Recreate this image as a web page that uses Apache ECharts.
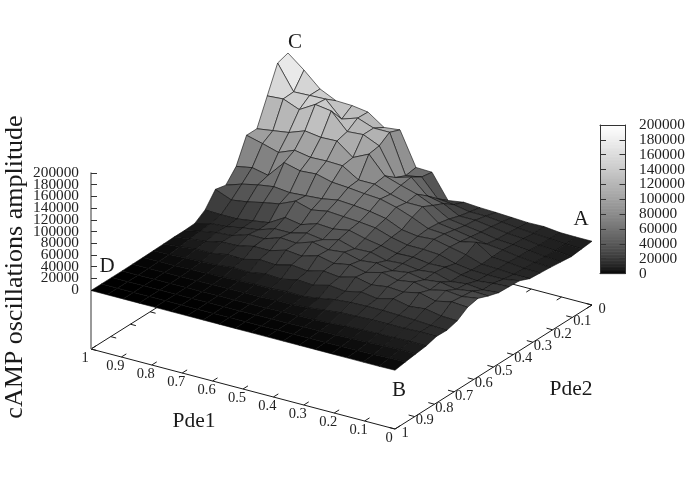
<!DOCTYPE html>
<html><head><meta charset="utf-8"><style>html,body{margin:0;padding:0;background:#fff}#c{width:685px;height:479px}</style>
<script src="https://cdn.jsdelivr.net/npm/echarts@6/dist/echarts.min.js"></script></head>
<body><div id="c"></div><script>
// cAMP amplitude in thousands. Rows: Pde2 from 0 to 1. Columns: Pde1 from 1 to 0.
const amplitudeRows = [
[194,172,147,134,133,129,110,113,56,55,14,18,16,15,13.5,12,12.5,9.5,9,9],
[188,146,147,148,121,130,120,120,53,58,28,25,20,20,17,14,12,10,8,7],
[143,145,134,150,146,118,120,108,61,69,44,38,24,24,20,16,14,10,8,5],
[98,102,106,116,112,113,92,105,75,66,58,46,30,26,22,17,15,12,9,7],
[98,91,83,94,89,90,89,72,72,62,55,55,34,30,25,20,17,13,10,9],
[56,61,55,84,77,79,72,70,67,65,58,48,36,34,28,34,16,14,11,10.5],
[35,44,50,54,51,53,55,60,58,55,50,38,34,36,30,24,15,14,12,12],
[39,28,32,38,43,55,47,52,50,48,45,36,30,30,28,20,16,15,15,19.5],
[15,14,14,18,22,38,33,42,40,45,38,33,27,28,24,25,19,16,19,20.5],
[3,10,12,17,21,30,30,37,33,40,32,33,26,28,24,27,19,22,19,21.5],
[2,8,13,15,24,24,33,31,40,34,37,30,33,27,31,26,29,24,28,27],
[2,6,9,15,16,22,22,30,27,35,29,34,28,35,29,33,27,33,30,34],
[1.5,4,7,7,12,11,18,16,23,20,27,24,31,25,29,27,33,26,32,30],
[1,2,3,4,5,8,7,12,10,16,14,21,18,24,20,27,21,24,19,18],
[.5,1,1,1.5,2,3,4,5,5,7,6,10,15,17,18,18,17,16,14,13],
[.3,.3,.5,.5,.8,1,1.5,2,2,3,3,5,8,11,12,13,13,13,14,13.7],
[0,0,0,.2,.3,.5,.6,.8,1,1.5,2,2.5,3,4,6,7,8,8,9,8.5],
[0,0,0,0,0,.1,.2,.3,.4,.5,.8,1,1.5,2,2.5,3,4,5,6,6],
[0,0,0,0,0,0,0,0,.1,.1,.2,.3,.4,.6,.8,1,1.5,2,3,3.5],
[0,0,0,0,0,0,0,0,0,0,0,0,0,0,0,0,0,0,0,.5]
];
const pdeTicks = [0,0.1,0.2,0.3,0.4,0.5,0.6,0.7,0.8,0.9,1];
const zTicks = [0,20000,40000,60000,80000,100000,120000,140000,160000,180000,200000];
const zMax = 200000, zStep = 20000, zFloor = -100000, gamma = 1.5;
const serif = '"Liberation Serif","Times New Roman",serif';

// Oblique view of the (Pde1, Pde2, z) box
const view = {x0:288, y0:225, xP1:304, yP1:80, xP2:-197, yP2:124, yZ:117/zMax};
function project(p1,p2,z){
  const A=1-p1, B=p2;
  return [view.x0+view.xP1*A+view.xP2*B,
          view.y0+view.yP1*A+view.yP2*B-(z-zFloor)*view.yZ];
}
const shade = z=>{const g=Math.round(255*Math.pow(Math.max(0,Math.min(1,z/zMax)),1/gamma));return `rgb(${g},${g},${g})`;};

const n = amplitudeRows.length, m = amplitudeRows[0].length;
const cells=[];
for(let b=0;b<n-1;b++)for(let a=0;a<m-1;a++)cells.push([a,b]);
const vtx=(a,b)=>[1-a/(m-1),b/(n-1),amplitudeRows[b][a]*1000];

function renderSurface(params,api){
  const a=api.value(0),b=api.value(1);
  const c=[vtx(a,b),vtx(a+1,b),vtx(a+1,b+1),vtx(a,b+1)];
  const mean=(c[0][2]+c[1][2]+c[2][2]+c[3][2])/4;
  return {type:'polygon',shape:{points:c.map(v=>api.coord(project(v[0],v[1],v[2])))},
    style:{fill:shade(mean),stroke:'#0c0c0c',lineWidth:0.8,strokeOpacity:0.75}};
}

const frameItems=[[1,1,0,1],[0,1,0,0],[0,0,1,0],[1,0,1,1]];
const tickItems=[];
pdeTicks.forEach(t=>{
  tickItems.push([t,1,t,0.975]);   // Pde1, front
  tickItems.push([t,0,t,0.025]);   // Pde1, back
  tickItems.push([0,t,0.02,t]);    // Pde2, front
  tickItems.push([1,t,0.982,t]);   // Pde2, back
});
function renderSeg(params,api){
  const p=api.coord(project(api.value(0),api.value(1),zFloor));
  const q=api.coord(project(api.value(2),api.value(3),zFloor));
  return {type:'line',shape:{x1:p[0],y1:p[1],x2:q[0],y2:q[1]},style:{stroke:'#1a1a1a',lineWidth:1}};
}
function renderTickLabel(offset,getP){
  return function(params,api){
    const t=api.value(0),pr=api.coord(project(getP(t)[0],getP(t)[1],zFloor));
    return {type:'text',x:pr[0]+offset[0],y:pr[1]+offset[1],
      style:{text:String(t),font:'14.5px '+serif,fill:'#222',align:'center',verticalAlign:'middle'}};
  };
}
function renderZLabel(dx,align){
  return function(params,api){
    const v=api.value(0),pr=api.coord([0,v]);
    return {type:'text',x:pr[0]+dx,y:pr[1],
      style:{text:String(v),font:'15.3px '+serif,fill:'#222',align:align,verticalAlign:'middle'}};
  };
}
const barLevels=[];for(let v=0;v<zMax;v+=zMax/100)barLevels.push(v);
function renderBar(params,api){
  const v=api.value(0),p=api.coord([0,v]),q=api.coord([1,v+zMax/100]);
  return {type:'rect',shape:{x:p[0],y:q[1],width:q[0]-p[0],height:p[1]-q[1]+0.6},style:{fill:shade(v+zMax/200)}};
}

const txt=(t,x,y,size,extra)=>Object.assign({type:'text',x,y,style:{text:t,font:size+'px '+serif,fill:'#1a1a1a',align:'center',verticalAlign:'middle'}},extra||{});
const hideAxis={show:false};
const barEdge={show:true,onZero:false,lineStyle:{color:'#333',width:1}};
const option={
  animation:false,backgroundColor:'#fff',
  grid:[
    {left:0,top:0,width:685,height:479},
    {left:91,top:173,width:40,height:117},
    {left:600,top:125,width:25.5,height:148.5}
  ],
  xAxis:[
    {gridIndex:0,type:'value',min:0,max:685,...hideAxis},
    {gridIndex:1,type:'value',min:0,max:1,...hideAxis},
    {gridIndex:2,type:'value',min:0,max:1,axisLabel:{show:false},axisTick:{show:false},splitLine:{show:false},axisLine:barEdge},
    {gridIndex:2,type:'value',min:0,max:1,position:'top',axisLabel:{show:false},axisTick:{show:false},splitLine:{show:false},axisLine:barEdge}
  ],
  yAxis:[
    {gridIndex:0,type:'value',min:0,max:479,inverse:true,...hideAxis},
    {gridIndex:1,type:'value',min:0,max:zMax,interval:zStep,position:'left',splitLine:{show:false},
      axisLine:{show:true,onZero:false,lineStyle:{color:'#777',width:1.5}},axisTick:{inside:true,length:6,lineStyle:{color:'#333'}},
      axisLabel:{show:false}},
    {gridIndex:2,type:'value',min:0,max:zMax,interval:zStep,position:'right',splitLine:{show:false},
      axisLine:barEdge,axisTick:{inside:true,length:6,lineStyle:{color:'#333'}},axisLabel:{show:false}},
    {gridIndex:2,type:'value',min:0,max:zMax,interval:zStep,position:'left',splitLine:{show:false},
      axisLine:barEdge,axisTick:{inside:true,length:6,lineStyle:{color:'#333'}},axisLabel:{show:false}}
  ],
  series:[
    {type:'custom',name:'frame',xAxisIndex:0,yAxisIndex:0,silent:true,clip:false,z:1,
      renderItem:renderSeg,encode:{x:0,y:1},data:frameItems.concat(tickItems)},
    {type:'custom',name:'zline',xAxisIndex:0,yAxisIndex:0,silent:true,clip:false,z:1,encode:{x:0,y:1},data:[[1,1]],
      renderItem:(p,api)=>{const a=api.coord(project(1,1,zFloor)),b=api.coord(project(1,1,0));
        return {type:'line',shape:{x1:a[0],y1:a[1],x2:b[0],y2:b[1]},style:{stroke:'#777',lineWidth:1.5}};}},
    {type:'custom',name:'Pde1 ticks',xAxisIndex:0,yAxisIndex:0,silent:true,clip:false,z:2,encode:{x:0},data:pdeTicks.map(t=>[t]),
      renderItem:renderTickLabel([-6,9],t=>[t,1])},
    {type:'custom',name:'Pde2 ticks',xAxisIndex:0,yAxisIndex:0,silent:true,clip:false,z:2,encode:{x:0},data:pdeTicks.map(t=>[t]),
      renderItem:renderTickLabel([10,4],t=>[0,t])},
    {type:'custom',name:'z ticks',xAxisIndex:1,yAxisIndex:1,silent:true,clip:false,z:2,encode:{y:0},data:zTicks.map(t=>[t]),
      renderItem:renderZLabel(-12,'right')},
    {type:'custom',name:'bar ticks',xAxisIndex:2,yAxisIndex:2,silent:true,clip:false,z:2,encode:{y:0},data:zTicks.map(t=>[t]),
      renderItem:renderZLabel(39,'left')},
    {type:'custom',name:'surface',xAxisIndex:0,yAxisIndex:0,silent:true,clip:false,z:3,encode:{x:0,y:1},data:cells,renderItem:renderSurface,progressive:0},
    {type:'custom',name:'colorbar',xAxisIndex:2,yAxisIndex:2,silent:true,clip:false,z:0,encode:{y:0},data:barLevels.map(v=>[v]),renderItem:renderBar,progressive:0}
  ],
  graphic:{elements:[
    txt('C',295,42,21),txt('D',107,266,21),txt('A',581,219,21),txt('B',399,390,21),
    txt('Pde1',194,421,21.5),txt('Pde2',571,389,21.5),
    txt('cAMP oscillations amplitude',15,267,26,{rotation:Math.PI/2})
  ]}
};
echarts.init(document.getElementById('c'),null,{renderer:'canvas'}).setOption(option);
</script></body></html>
